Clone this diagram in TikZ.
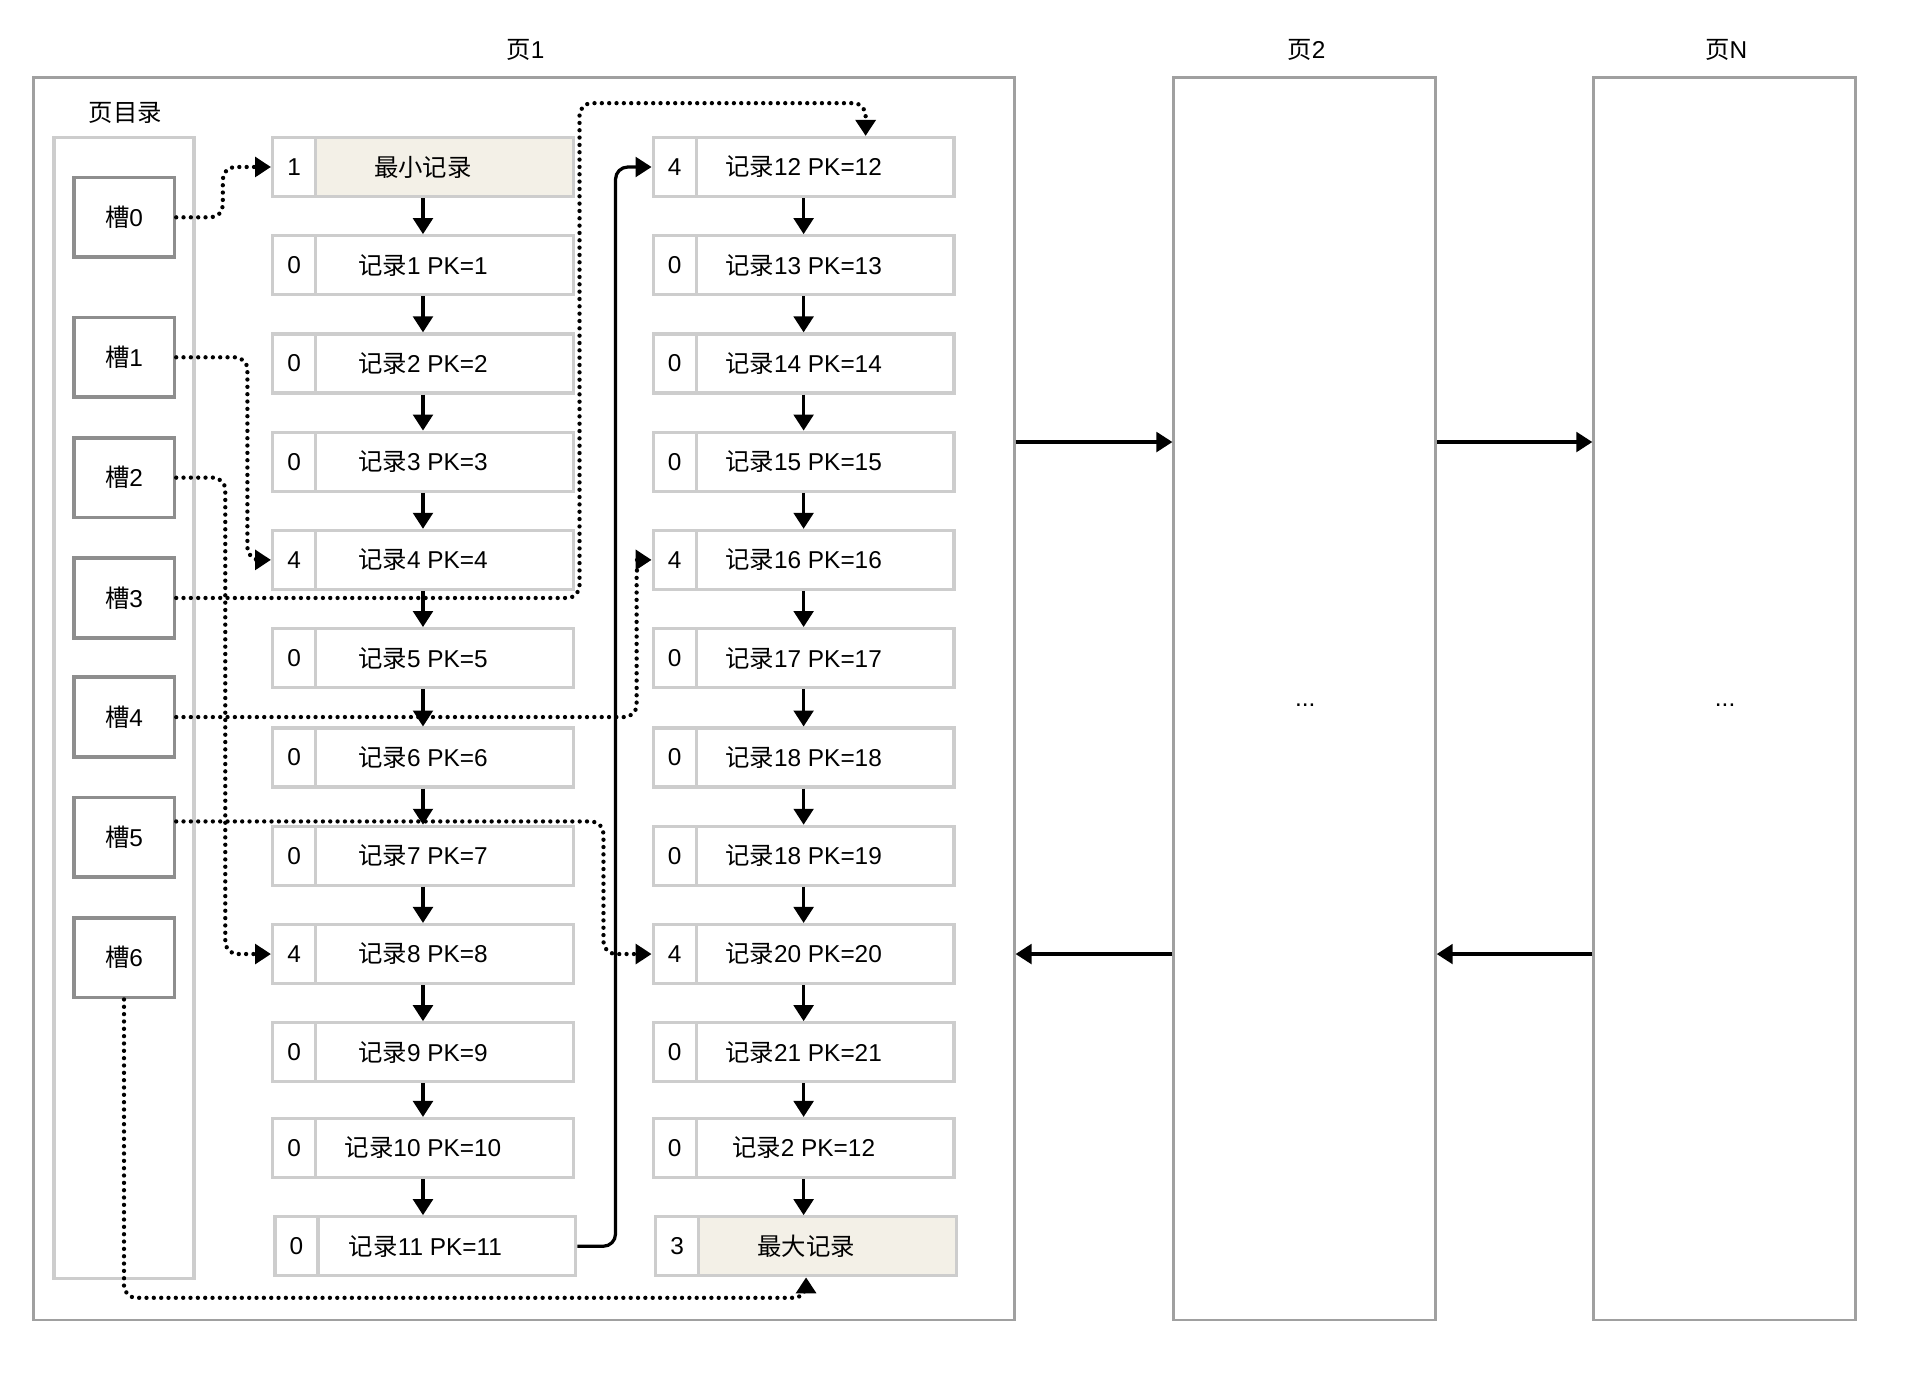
\documentclass[tikz,border=0pt]{standalone}
\usepackage{fontspec}
\setmainfont{Liberation Sans}
\newfontfamily\cjk{Noto Sans CJK SC}
\usepackage{xcolor}
\usetikzlibrary{arrows.meta}
\definecolor{recgray}{HTML}{CDCDCD}
\definecolor{pagegray}{HTML}{A0A0A0}
\definecolor{slotgray}{HTML}{8E8E8E}
\definecolor{minmax}{HTML}{F3F0E7}
\newcommand{\jl}{{\cjk 记录}}

\begin{document}
\begin{tikzpicture}[x=0.2mm,y=-0.2mm,font=\fontsize{11.3}{13}\selectfont,
    rec/.style={draw=recgray,line width=1.5pt,minimum width=49mm,minimum height=9.6mm,inner sep=0pt},
    num/.style={draw=recgray,line width=1.5pt,fill=white,minimum width=7mm,minimum height=9.6mm,inner sep=0pt},
    slot/.style={draw=slotgray,line width=1.7pt,minimum width=16.4mm,minimum height=13mm,inner sep=0pt},
    page/.style={draw=pagegray,line width=1.3pt,minimum height=202.4mm,inner sep=0pt},
    link/.style={-{Triangle[width=3.2mm,length=2.6mm]},line width=1.5pt},
    dotlink/.style={-{Triangle[width=3.2mm,length=2.6mm]},line width=2pt,line cap=round,
      dash pattern=on 0pt off 3.4pt,rounded corners=2mm}]
  \useasboundingbox (0,0) rectangle (1567,1137);

  % pages
  \node[page,minimum width=159.8mm] (page1) at (426.5,569) {};
  \node[page,minimum width=42.6mm] (page2) at (1062.5,569) {};
  \node[page,minimum width=42.6mm] (pageN) at (1404.5,569) {};
  \node (t1) at (428,41) {{\cjk 页}1};
  \node (t2) at (1064,41) {{\cjk 页}2};
  \node (tN) at (1406,41) {{\cjk 页}N};
  \node (d2) at (1063,574) {...};
  \node (dN) at (1405,574) {...};

  \draw[link] ([yshift=41.8mm]page1.east) -- ([yshift=41.8mm]page2.west);
  \draw[link] ([yshift=41.8mm]page2.east) -- ([yshift=41.8mm]pageN.west);
  \draw[link] ([yshift=-41.6mm]page2.west) -- ([yshift=-41.6mm]page1.east);
  \draw[link] ([yshift=-41.6mm]pageN.west) -- ([yshift=-41.6mm]page2.east);

  % page directory
  \node (dirt) at (102,92) {\cjk 页目录};
  \node[draw=recgray,line width=1.5pt,minimum width=22.8mm,minimum height=185.8mm] (dir) at (101,576.5) {};
  \node[slot] (s0) at (101,177) {{\cjk 槽}0};
  \node[slot] (s1) at (101,291) {{\cjk 槽}1};
  \node[slot] (s2) at (101,389) {{\cjk 槽}2};
  \node[slot] (s3) at (101,487) {{\cjk 槽}3};
  \node[slot] (s4) at (101,584) {{\cjk 槽}4};
  \node[slot] (s5) at (101,682) {{\cjk 槽}5};
  \node[slot] (s6) at (101,780) {{\cjk 槽}6};

  % left records
  \node[rec,fill=minmax] (lr0) at (344.5,136) {\cjk 最小记录};
  \node[rec] (lr1) at (344.5,216) {\jl1 PK=1};
  \node[rec] (lr2) at (344.5,296) {\jl2 PK=2};
  \node[rec] (lr3) at (344.5,376) {\jl3 PK=3};
  \node[rec] (lr4) at (344.5,456) {\jl4 PK=4};
  \node[rec] (lr5) at (344.5,536) {\jl5 PK=5};
  \node[rec] (lr6) at (344.5,617) {\jl6 PK=6};
  \node[rec] (lr7) at (344.5,697) {\jl7 PK=7};
  \node[rec] (lr8) at (344.5,777) {\jl8 PK=8};
  \node[rec] (lr9) at (344.5,857) {\jl9 PK=9};
  \node[rec] (lr10) at (344.5,935) {\jl10 PK=10};
  \node[rec] (lr11) at (346.5,1015) {\jl11 PK=11};

  \node[num] (ln0) at (239.5,136) {1};
  \node[num] (ln1) at (239.5,216) {0};
  \node[num] (ln2) at (239.5,296) {0};
  \node[num] (ln3) at (239.5,376) {0};
  \node[num] (ln4) at (239.5,456) {4};
  \node[num] (ln5) at (239.5,536) {0};
  \node[num] (ln6) at (239.5,617) {0};
  \node[num] (ln7) at (239.5,697) {0};
  \node[num] (ln8) at (239.5,777) {4};
  \node[num] (ln9) at (239.5,857) {0};
  \node[num] (ln10) at (239.5,935) {0};
  \node[num] (ln11) at (241.5,1015) {0};

  % right records
  \node[rec] (rr0) at (654.5,136) {\jl12 PK=12};
  \node[rec] (rr1) at (654.5,216) {\jl13 PK=13};
  \node[rec] (rr2) at (654.5,296) {\jl14 PK=14};
  \node[rec] (rr3) at (654.5,376) {\jl15 PK=15};
  \node[rec] (rr4) at (654.5,456) {\jl16 PK=16};
  \node[rec] (rr5) at (654.5,536) {\jl17 PK=17};
  \node[rec] (rr6) at (654.5,617) {\jl18 PK=18};
  \node[rec] (rr7) at (654.5,697) {\jl18 PK=19};
  \node[rec] (rr8) at (654.5,777) {\jl20 PK=20};
  \node[rec] (rr9) at (654.5,857) {\jl21 PK=21};
  \node[rec] (rr10) at (654.5,935) {\jl2 PK=12};
  \node[rec,fill=minmax] (rr11) at (656.5,1015) {\cjk 最大记录};

  \node[num] (rn0) at (549.5,136) {4};
  \node[num] (rn1) at (549.5,216) {0};
  \node[num] (rn2) at (549.5,296) {0};
  \node[num] (rn3) at (549.5,376) {0};
  \node[num] (rn4) at (549.5,456) {4};
  \node[num] (rn5) at (549.5,536) {0};
  \node[num] (rn6) at (549.5,617) {0};
  \node[num] (rn7) at (549.5,697) {0};
  \node[num] (rn8) at (549.5,777) {4};
  \node[num] (rn9) at (549.5,857) {0};
  \node[num] (rn10) at (549.5,935) {0};
  \node[num] (rn11) at (551.5,1015) {3};

  % next record
  \draw[link] (lr0) -- (lr1);
  \draw[link] (lr1) -- (lr2);
  \draw[link] (lr2) -- (lr3);
  \draw[link] (lr3) -- (lr4);
  \draw[link] (lr4) -- (lr5);
  \draw[link] (lr5) -- (lr6);
  \draw[link] (lr6) -- (lr7);
  \draw[link] (lr7) -- (lr8);
  \draw[link] (lr8) -- (lr9);
  \draw[link] (lr9) -- (lr10);
  \draw[link] (lr10.south) -- (lr10.south |- lr11.north);
  \draw[link,rounded corners=2mm] (lr11.east) -- ++(31,0) |- (rn0.west);

  \draw[link] (rr0) -- (rr1);
  \draw[link] (rr1) -- (rr2);
  \draw[link] (rr2) -- (rr3);
  \draw[link] (rr3) -- (rr4);
  \draw[link] (rr4) -- (rr5);
  \draw[link] (rr5) -- (rr6);
  \draw[link] (rr6) -- (rr7);
  \draw[link] (rr7) -- (rr8);
  \draw[link] (rr8) -- (rr9);
  \draw[link] (rr9) -- (rr10);
  \draw[link] (rr10.south) -- (rr10.south |- rr11.north);

  % slots
  \draw[dotlink] (s0.east) -- ++(38,0) |- (ln0.west);
  \draw[dotlink] (s1.east) -- ++(58,0) |- (ln4.west);
  \draw[dotlink] (s2.east) -- ++(40,0) |- (ln8.west);
  \draw[dotlink] (s3.east) -| (472,84) -| ([xshift=10.1mm]rr0.north);
  \draw[dotlink] (s4.east) -- ++(375,0) |- (rn4.west);
  \draw[dotlink] ([yshift=2.6mm]s5.east) -- ++(348,0) |- (rn8.west);
  \draw[dotlink] (s6.south) -- ++(0,243) -| (rr11.south);
\end{tikzpicture}
\end{document}
